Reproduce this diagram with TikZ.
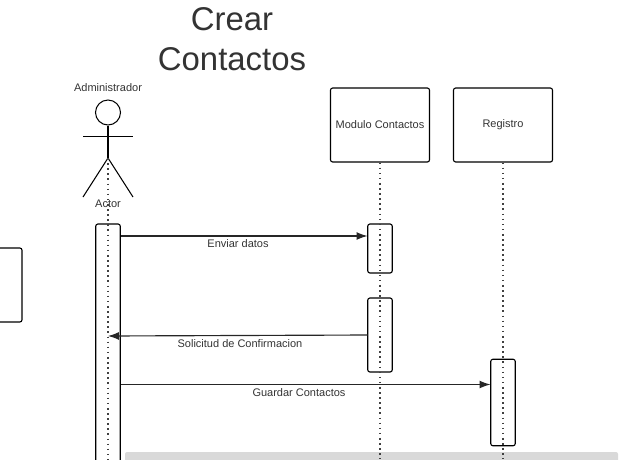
\documentclass[tikz,border=0pt]{standalone}
\usepackage{fontspec}
\setmainfont{Liberation Sans}
\usetikzlibrary{arrows.meta}
\definecolor{ink}{HTML}{333333}
\tikzset{
  x=1pt,y=-1pt,
  box/.style={draw=black,line width=1.1pt,rounded corners=2.2pt,fill=none,inner sep=0pt,text=ink,font=\fontsize{11pt}{13pt}\selectfont,align=center},
  lbl/.style={text=ink,inner sep=0pt,font=\fontsize{11pt}{13pt}\selectfont},
  life/.style={black!75,line width=1.3pt,dash pattern=on 1.6pt off 3.5pt},
  msg/.style={draw=black!85,line width=1.15pt,-{Latex[length=11pt,width=8pt]}},
  limb/.style={draw=black,line width=1.05pt},
}
\begin{document}
\begin{tikzpicture}
\useasboundingbox (0,0) rectangle (619,459);
% canvas frame points
\coordinate (bottomA) at (108,459);
\coordinate (bottomM) at (380,459);
\coordinate (bottomR) at (503,459);
% scrollbar
\fill[black!15,rounded corners=2pt] (125,452) rectangle (618,462);
% title
\node[text=ink,inner sep=0pt,align=center,font=\fontsize{32.9pt}{40pt}\selectfont] (title) at (232,39.5) {Crear\\Contactos};
% actor
\node[lbl] (adm) at (108,87.5) {Administrador};
\node[draw=black,line width=1pt,circle,minimum size=25pt,inner sep=0pt] (head) at (108,112.5) {};
\coordinate (hip) at (108,158);
\coordinate (armL) at (83,136.5);
\coordinate (armR) at (133,136.5);
\coordinate (footL) at (83,197);
\coordinate (footR) at (133,197);
\draw[limb] (head.south) -- (hip);
\draw[limb] (armL) -- (armR);
\draw[limb] (footL) -- (hip) -- (footR);
\node[lbl] (actor) at (108,203.5) {Actor};
% objects
\node[box,minimum width=99pt,minimum height=74pt] (mod) at (380,125) {\raisebox{1pt}{Modulo Contactos}};
\node[box,minimum width=99pt,minimum height=74pt] (reg) at (503,125) {\raisebox{1pt}{Registro}};
% activations
\node[box,minimum width=24.5pt,minimum height=250pt] (actA) at (108,349) {};
\node[box,minimum width=24.5pt,minimum height=49pt] (act1) at (380,248.5) {};
\node[box,minimum width=24.5pt,minimum height=74pt] (act2) at (380,335) {};
\node[box,minimum width=24.5pt,minimum height=86.5pt] (act3) at (503,402.5) {};
\node[box,minimum width=50pt,minimum height=74pt] (side) at (-3,285) {};
% lifelines
\draw[life] (hip) -- (bottomA);
\draw[life] (mod.south) -- (bottomM);
\draw[life] (reg.south) -- (bottomR);
% messages
\coordinate (m1s) at (120.5,236);
\coordinate (m1e) at (367.5,236);
\coordinate (m2s) at (367.5,335);
\coordinate (m2e) at (108,336);
\coordinate (m3s) at (120.5,384.5);
\coordinate (m3e) at (490.5,384.5);
\draw[msg] (m1s) -- (m1e);
\draw[msg] (m2s) -- (m2e);
\draw[msg] (m3s) -- (m3e);
\node[lbl] (l1) at (238,243.5) {Enviar datos};
\node[lbl] (l2) at (240,343.5) {Solicitud de Confirmacion};
\node[lbl] (l3) at (299,392.5) {Guardar Contactos};
\end{tikzpicture}
\end{document}
